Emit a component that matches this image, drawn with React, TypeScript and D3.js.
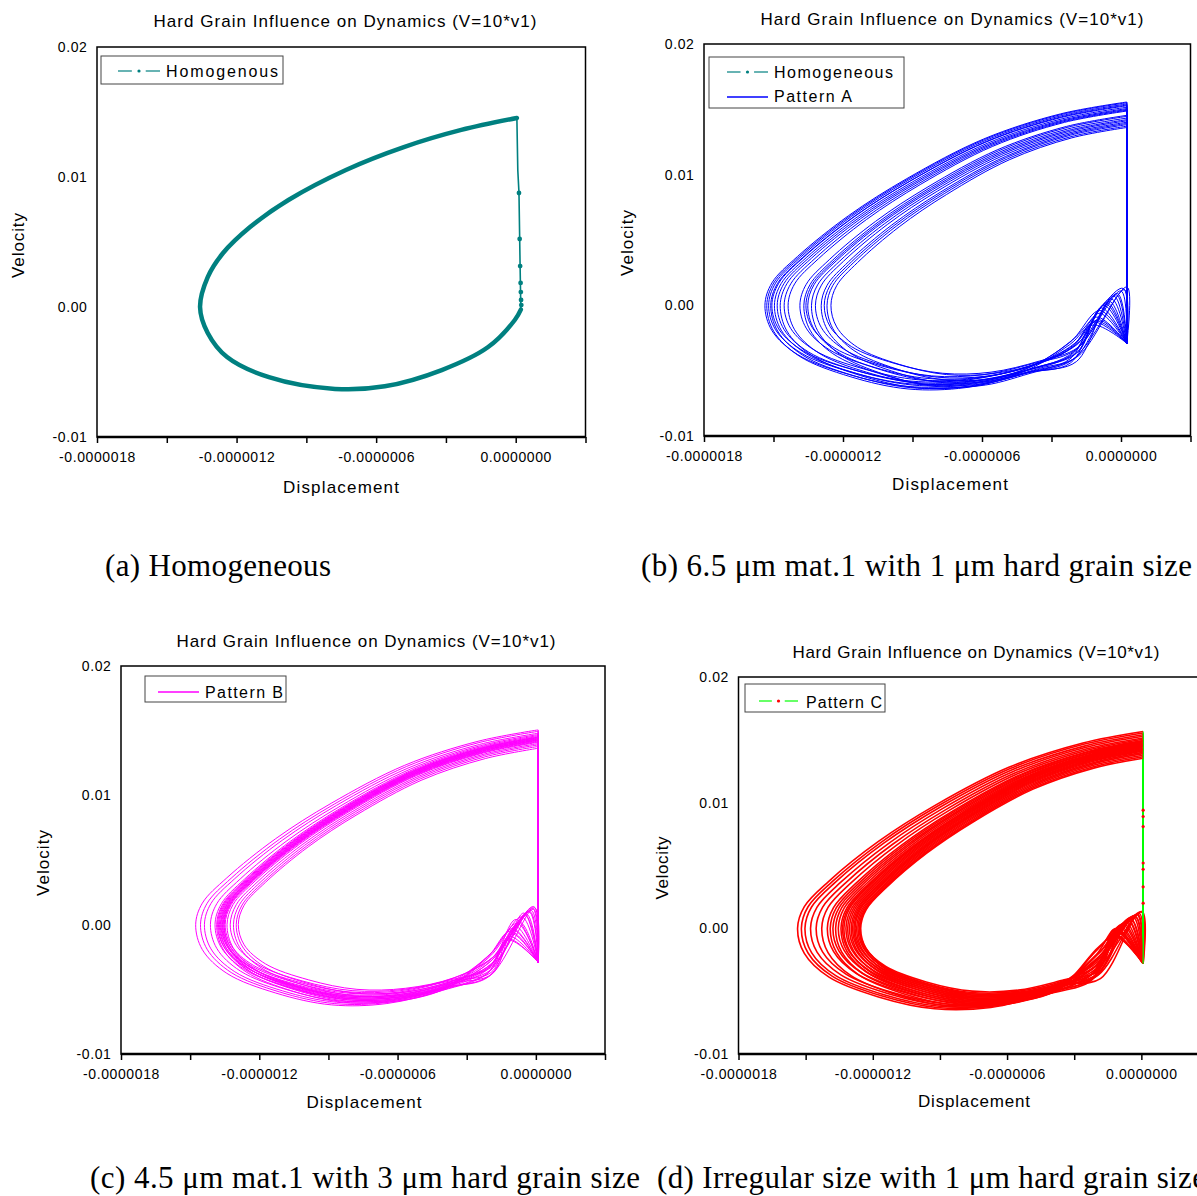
import React, { useEffect, useRef } from 'react';
import * as d3 from 'd3';

const FONT = '"Liberation Sans", Arial, sans-serif';
const SERIF = '"Liberation Serif", "Times New Roman", serif';
const TEAL = '#008080';

// axes (displacement in units of 1e-6)
const xTickValues = [-1.8, -1.5, -1.2, -0.9, -0.6, -0.3, 0, 0.3];
const xLabelValues = [-1.8, -1.2, -0.6, 0];
const xTickLabels = ['-0.0000018', '-0.0000012', '-0.0000006', '0.0000000'];
const yTickValues = [-0.01, 0, 0.01, 0.02];
const yTickLabels = ['-0.01', '0.00', '0.01', '0.02'];

// (a) homogeneous cycle
const homDisp = [0.005, -0.234, -0.481, -0.730, -0.977, -1.142, -1.258, -1.324, -1.357, -1.324, -1.241, -1.061, -0.777, -0.563, -0.318, -0.120, -0.004, 0.022];
const homVel = [0.01454, 0.01362, 0.0123, 0.01054, 0.00823, 0.00615, 0.00415, 0.0023, 0.0, -0.002, -0.00385, -0.0054, -0.0063, -0.0061, -0.00485, -0.0031, -0.001, -0.0002];
const homJumpDisp = [0.022, 0.019, 0.014, 0.009, 0.005];
const homJumpVel = [-0.0002, 0.003, 0.0088, 0.0105, 0.01454];
const homMarkerDisp = [0.014, 0.017, 0.019, 0.021, 0.022, 0.023, 0.024];
const homMarkerVel = [0.00877, 0.00523, 0.00315, 0.00185, 0.00115, 0.00054, 0.00015];

// reference loop shape (outer cycle of pattern A), starts at the top of the jump
const baseDisp = [0.0, -0.26, -0.59, -0.92, -1.17, -1.39, -1.50, -1.53, -1.50, -1.39, -1.17, -0.92, -0.67, -0.42, -0.22];
const baseVel = [0.0154, 0.0145, 0.0126, 0.0096, 0.0068, 0.0037, 0.0017, 0.0, -0.0019, -0.0037, -0.0052, -0.0061, -0.0060, -0.0050, -0.0032];

// Pattern A cycles: leftmost displacement, top / bottom velocity, velocity near -0.22e-6, hook tip
const aLeft = [-1.537, -1.529, -1.521, -1.512, -1.507, -1.496, -1.484, -1.471, -1.454, -1.437, -1.386, -1.369, -1.360, -1.352, -1.336, -1.319, -1.294, -1.281, -1.269, -1.252];
const aTop = [0.01556, 0.0155, 0.01541, 0.01527, 0.01533, 0.01516, 0.01506, 0.01499, 0.01493, 0.01487, 0.01454, 0.01446, 0.01433, 0.01421, 0.01412, 0.01401, 0.01392, 0.01383, 0.01371, 0.01361];
const aBottom = [-0.0062, -0.0064, -0.006, -0.0063, -0.0058, -0.0061, -0.0059, -0.0063, -0.0057, -0.006, -0.0056, -0.0061, -0.0054, -0.0058, -0.0062, -0.0055, -0.0059, -0.0052, -0.0057, -0.0053];
const aTail = [-0.003, -0.0041, -0.0028, -0.0044, -0.0033, -0.0038, -0.0027, -0.0042, -0.0031, -0.0036, -0.0029, -0.004, -0.0034, -0.0037, -0.0043, -0.003, -0.0039, -0.0032, -0.0035, -0.0028];
const aHookDisp = [-0.12, -0.11, -0.091, -0.074, -0.041, -0.016, 0.009, 0.026, -0.115, -0.06, -0.105, -0.03, 0.0, -0.085, -0.05, -0.1, 0.015, -0.02, -0.095, -0.065];
const aHookVel = [-0.0015, -0.0012, -0.0004, 0.0, 0.0005, 0.0009, 0.0013, 0.0014, -0.0013, 0.0002, -0.0009, 0.0007, 0.0011, -0.0002, 0.0003, -0.0011, 0.0012, 0.0008, -0.0006, 0.0001];
const aJumpDisp = 0.025;
const aJumpLow = -0.0029;

// Pattern B cycles
const bLeft = [-1.476, -1.455, -1.438, -1.412, -1.392, -1.385, -1.381, -1.377, -1.373, -1.369, -1.366, -1.363, -1.36, -1.357, -1.354, -1.352, -1.348, -1.34, -1.326, -1.312, -1.3, -1.291];
const bTop = [0.01506, 0.01495, 0.0148, 0.0147, 0.01462, 0.01455, 0.0145, 0.01448, 0.01445, 0.0144, 0.01438, 0.01435, 0.0143, 0.01428, 0.01425, 0.0142, 0.01415, 0.0141, 0.014, 0.0139, 0.01378, 0.01364];
const bBottom = [-0.0062, -0.0061, -0.006, -0.0059, -0.0057, -0.006, -0.0055, -0.0058, -0.0056, -0.0059, -0.0054, -0.0057, -0.0055, -0.0058, -0.0053, -0.0056, -0.0052, -0.0057, -0.0051, -0.0055, -0.0053, -0.005];
const bTail = [-0.0038, -0.0025, -0.0034, -0.004, -0.0029, -0.0036, -0.0023, -0.0032, -0.0027, -0.0039, -0.0031, -0.0024, -0.0035, -0.0028, -0.0037, -0.0022, -0.0033, -0.003, -0.0026, -0.0038, -0.0031, -0.0025];
const bHookDisp = [-0.12, -0.11, -0.086, -0.052, -0.009, -0.115, -0.1, -0.07, -0.03, -0.01, -0.105, -0.06, -0.04, -0.02, -0.1, -0.08, -0.015, -0.045, -0.118, -0.09, -0.025, -0.005];
const bHookVel = [-0.0012, -0.0005, 0.0004, 0.0009, 0.0014, -0.0009, -0.0003, 0.0002, 0.001, 0.0012, -0.0007, 0.0006, 0.0008, 0.0011, -0.0004, 0.0001, 0.0013, 0.0007, -0.0011, -0.0001, 0.001, 0.0013];
const bJumpDisp = 0.01;
const bJumpLow = -0.0029;

// Pattern C cycles
const cLeft = [-1.536, -1.519, -1.503, -1.478, -1.453, -1.428, -1.403, -1.39, -1.378, -1.366, -1.354, -1.342, -1.335, -1.329, -1.32, -1.312, -1.304, -1.296, -1.29, -1.284, -1.279, -1.272, -1.266, -1.26, -1.257, -1.254];
const cTop = [0.01566, 0.01555, 0.0154, 0.01528, 0.01515, 0.01505, 0.01495, 0.0149, 0.01482, 0.01478, 0.0147, 0.01465, 0.0146, 0.01455, 0.0145, 0.01445, 0.0144, 0.01432, 0.01425, 0.01418, 0.0141, 0.014, 0.0139, 0.01378, 0.01365, 0.01354];
const cBottom = [-0.0064, -0.0063, -0.0062, -0.0061, -0.006, -0.0062, -0.0059, -0.0061, -0.0058, -0.006, -0.0057, -0.0059, -0.0056, -0.0058, -0.0055, -0.0057, -0.0054, -0.0056, -0.0053, -0.0055, -0.0052, -0.0054, -0.0051, -0.0053, -0.005, -0.0052];
const cTail = [-0.0041, -0.0036, -0.0039, -0.0031, -0.0026, -0.0034, -0.0021, -0.0038, -0.0029, -0.0017, -0.0033, -0.0024, -0.0037, -0.0015, -0.0028, -0.0035, -0.0022, -0.003, -0.0019, -0.0032, -0.0025, -0.004, -0.0027, -0.0018, -0.0033, -0.0023];
const cHookDisp = [-0.12, -0.11, -0.08, -0.038, 0.003, -0.118, -0.11, -0.06, -0.02, -0.105, -0.095, -0.05, -0.01, -0.115, -0.12, -0.07, -0.03, 0.0, -0.1, -0.1, -0.045, -0.015, -0.1, -0.085, -0.055, -0.025];
const cHookVel = [-0.00066, -0.00013, 0.0004, 0.00093, 0.00133, -0.0005, 0.0, 0.0006, 0.0011, -0.0003, 0.0002, 0.0008, 0.0012, -0.0006, -0.0001, 0.0005, 0.001, 0.0013, -0.0004, 0.0001, 0.0007, 0.0011, -0.0002, 0.0003, 0.0006, 0.0009];
const cJumpDisp = 0.008;
const cJumpLow = -0.0028;
const cJumpMarkerVel = [0.0094, 0.0089, 0.0081, 0.0052, 0.0047, 0.0033, 0.002];

const baseLeft = d3.min(baseDisp);
const baseTop = baseVel[0];
const baseBottom = d3.min(baseVel);

function cycleLoop(set, i) {
  const r = set.left[i] / baseLeft;
  const sTop = set.top[i] / baseTop;
  const sBot = set.bottom[i] / baseBottom;
  const last = baseDisp.length - 1;
  const pts = [[set.jumpDisp, set.top[i]]];
  for (let k = 1; k < last; k++) {
    const v = baseVel[k];
    pts.push([baseDisp[k] * r, v >= 0 ? v * sTop : v * sBot]);
  }
  pts.push([baseDisp[last] * r, set.tail[i]]);
  pts.push([set.hookDisp[i], set.hookVel[i]]);
  pts.push([set.jumpDisp, set.jumpLow]);
  return pts;
}

function drawPattern(g, x, y, set) {
  const smooth = d3.line().x(d => x(d[0])).y(d => y(d[1])).curve(d3.curveCatmullRom.alpha(0.5));
  const straight = d3.line().x(d => x(d[0])).y(d => y(d[1]));
  set.left.forEach((_, i) => {
    g.append('path')
      .datum(cycleLoop(set, i))
      .attr('d', smooth)
      .attr('fill', 'none')
      .attr('stroke', set.color)
      .attr('stroke-width', set.width);
    g.append('path')
      .datum([[set.jumpDisp, set.jumpLow], [set.jumpDisp, set.top[i]]])
      .attr('d', straight)
      .attr('fill', 'none')
      .attr('stroke', set.jumpColor || set.color)
      .attr('stroke-width', 1.2);
  });
}

function drawHomogeneous(g, x, y) {
  const smooth = d3.line().x(d => x(d[0])).y(d => y(d[1])).curve(d3.curveCatmullRom.alpha(0.5));
  const straight = d3.line().x(d => x(d[0])).y(d => y(d[1]));
  g.append('path')
    .datum(d3.zip(homDisp, homVel))
    .attr('d', smooth)
    .attr('fill', 'none')
    .attr('stroke', TEAL)
    .attr('stroke-width', 4.5)
    .attr('stroke-linecap', 'round')
    .attr('stroke-linejoin', 'round');
  g.append('path')
    .datum(d3.zip(homJumpDisp, homJumpVel))
    .attr('d', straight)
    .attr('fill', 'none')
    .attr('stroke', TEAL)
    .attr('stroke-width', 1.6);
  g.selectAll(null)
    .data(d3.zip(homMarkerDisp, homMarkerVel))
    .join('circle')
    .attr('cx', d => x(d[0]))
    .attr('cy', d => y(d[1]))
    .attr('r', 2.4)
    .attr('fill', TEAL);
}

const setA = { left: aLeft, top: aTop, bottom: aBottom, tail: aTail, hookDisp: aHookDisp, hookVel: aHookVel, jumpDisp: aJumpDisp, jumpLow: aJumpLow, color: '#0000ff', width: 1 };
const setB = { left: bLeft, top: bTop, bottom: bBottom, tail: bTail, hookDisp: bHookDisp, hookVel: bHookVel, jumpDisp: bJumpDisp, jumpLow: bJumpLow, color: '#ff00ff', width: 1 };
const setC = { left: cLeft, top: cTop, bottom: cBottom, tail: cTail, hookDisp: cHookDisp, hookVel: cHookVel, jumpDisp: cJumpDisp, jumpLow: cJumpLow, color: '#ff0000', jumpColor: '#00ff00', width: 1.6 };

const TITLE = 'Hard Grain Influence on Dynamics (V=10*v1)';

const panels = [
  {
    left: 97, right: 585.5, top: 47, bottom: 437,
    title: [345, 27, 383], xlab: [341, 492.5, 116], ylab: [24, 245.5, 65],
    box: [101, 56, 283, 84],
    legend: [{ label: 'Homogenous', kind: 'dashdot', color: TEAL, dot: TEAL, ly: 71, x0: 118, x1: 160, tx: 166, base: 76.5, len: 112 }],
    series: (g, x, y) => drawHomogeneous(g, x, y),
  },
  {
    left: 704, right: 1190.5, top: 44, bottom: 436,
    title: [952, 25, 383], xlab: [950, 490, 116], ylab: [633, 243, 66],
    box: [709, 57, 904, 108],
    legend: [
      { label: 'Homogeneous', kind: 'dashdot', color: TEAL, dot: TEAL, ly: 72, x0: 727, x1: 768, tx: 774, base: 77.5, len: 119 },
      { label: 'Pattern A', kind: 'line', color: '#0000ff', ly: 97, x0: 727, x1: 768, tx: 774, base: 102, len: 78 },
    ],
    series: (g, x, y) => drawPattern(g, x, y, setA),
  },
  {
    left: 121, right: 605, top: 666, bottom: 1054,
    title: [366, 646.5, 379], xlab: [364, 1108, 115], ylab: [49, 863, 66],
    box: [145, 676, 286, 702],
    legend: [{ label: 'Pattern B', kind: 'line', color: '#ff00ff', ly: 692, x0: 158, x1: 199, tx: 205, base: 698, len: 78 }],
    series: (g, x, y) => drawPattern(g, x, y, setB),
  },
  {
    left: 738.5, right: 1208.5, top: 677, bottom: 1054,
    title: [976, 658, 367], xlab: [974, 1107, 112], ylab: [668, 868, 63],
    box: [745, 684, 885, 712],
    legend: [{ label: 'Pattern C', kind: 'dashdot', color: '#00ff00', dot: '#ff0000', ly: 701, x0: 759, x1: 798, tx: 806, base: 708, len: 76 }],
    series: (g, x, y) => {
      drawPattern(g, x, y, setC);
      g.selectAll(null)
        .data(cJumpMarkerVel)
        .join('circle')
        .attr('cx', x(cJumpDisp))
        .attr('cy', d => y(d))
        .attr('r', 1.6)
        .attr('fill', '#ff0000');
    },
  },
];

const captions = [
  { text: '(a) Homogeneous', x: 105, y: 576, len: 226 },
  { text: '(b) 6.5 \u03bcm mat.1 with 1 \u03bcm hard grain size', x: 641, y: 576, len: 551 },
  { text: '(c) 4.5 \u03bcm mat.1 with 3 \u03bcm hard grain size', x: 90, y: 1188, len: 550 },
  { text: '(d) Irregular size with 1 \u03bcm hard grain size', x: 657, y: 1188, len: 549 },
];

const near = (arr, d) => arr.findIndex(v => Math.abs(v - d) < 1e-9);

function drawPanel(svg, p) {
  const x = d3.scaleLinear().domain([-1.8, 0.3]).range([p.left, p.right]);
  const y = d3.scaleLinear().domain([-0.01, 0.02]).range([p.bottom, p.top]);
  const g = svg.append('g');

  p.series(g, x, y);

  // frame
  g.append('rect')
    .attr('x', p.left).attr('y', p.top)
    .attr('width', p.right - p.left).attr('height', p.bottom - p.top)
    .attr('fill', 'none').attr('stroke', '#000').attr('stroke-width', 1.5);
  g.append('line')
    .attr('x1', p.left).attr('x2', p.right).attr('y1', p.bottom).attr('y2', p.bottom)
    .attr('stroke', '#000').attr('stroke-width', 2.4);

  // axes
  const xa = g.append('g')
    .attr('transform', `translate(0,${p.bottom})`)
    .call(d3.axisBottom(x).tickValues(xTickValues).tickSize(6).tickSizeOuter(0).tickPadding(9)
      .tickFormat(d => { const i = near(xLabelValues, +d); return i < 0 ? '' : xTickLabels[i]; }));
  xa.select('.domain').remove();
  xa.attr('font-family', FONT).attr('font-size', 14);
  xa.selectAll('line').attr('stroke', '#000').attr('stroke-width', 1.5);
  xa.selectAll('text').attr('fill', '#000').attr('letter-spacing', 0.6);

  const ya = g.append('g')
    .attr('transform', `translate(${p.left},0)`)
    .call(d3.axisLeft(y).tickValues(yTickValues).tickSize(0).tickSizeOuter(0).tickPadding(9.5)
      .tickFormat(d => { const i = near(yTickValues, +d); return yTickLabels[i]; }));
  ya.select('.domain').remove();
  ya.attr('font-family', FONT).attr('font-size', 14);
  ya.selectAll('text').attr('fill', '#000').attr('letter-spacing', 0.6);

  // title and axis labels
  g.append('text')
    .attr('x', p.title[0]).attr('y', p.title[1])
    .attr('text-anchor', 'middle').attr('font-family', FONT).attr('font-size', 17)
    .attr('textLength', p.title[2]).attr('lengthAdjust', 'spacing')
    .text(TITLE);
  g.append('text')
    .attr('x', p.xlab[0]).attr('y', p.xlab[1])
    .attr('text-anchor', 'middle').attr('font-family', FONT).attr('font-size', 17)
    .attr('textLength', p.xlab[2]).attr('lengthAdjust', 'spacing')
    .text('Displacement');
  g.append('text')
    .attr('transform', `translate(${p.ylab[0]},${p.ylab[1]}) rotate(-90)`)
    .attr('text-anchor', 'middle').attr('font-family', FONT).attr('font-size', 17)
    .attr('textLength', p.ylab[2]).attr('lengthAdjust', 'spacing')
    .text('Velocity');

  // legend
  const [bx0, by0, bx1, by1] = p.box;
  g.append('rect')
    .attr('x', bx0).attr('y', by0).attr('width', bx1 - bx0).attr('height', by1 - by0)
    .attr('fill', '#fff').attr('stroke', '#444').attr('stroke-width', 1);
  p.legend.forEach(e => {
    const L = e.x1 - e.x0;
    if (e.kind === 'line') {
      g.append('line').attr('x1', e.x0).attr('x2', e.x1).attr('y1', e.ly).attr('y2', e.ly)
        .attr('stroke', e.color).attr('stroke-width', 1.5);
    } else {
      g.append('line').attr('x1', e.x0).attr('x2', e.x0 + L * 0.33).attr('y1', e.ly).attr('y2', e.ly)
        .attr('stroke', e.color).attr('stroke-width', 1.2);
      g.append('line').attr('x1', e.x0 + L * 0.66).attr('x2', e.x1).attr('y1', e.ly).attr('y2', e.ly)
        .attr('stroke', e.color).attr('stroke-width', 1.2);
      g.append('circle').attr('cx', e.x0 + L * 0.5).attr('cy', e.ly).attr('r', 1.6).attr('fill', e.dot);
    }
    g.append('text')
      .attr('x', e.tx).attr('y', e.base)
      .attr('font-family', FONT).attr('font-size', 16)
      .attr('textLength', e.len).attr('lengthAdjust', 'spacing')
      .text(e.label);
  });
}

const App = () => {
  const svgRef = useRef(null);

  useEffect(() => {
    const svg = d3.select(svgRef.current);
    svg.selectAll('*').remove();
    svg.append('rect').attr('width', 1197).attr('height', 1196).attr('fill', '#fff');

    panels.forEach(p => drawPanel(svg, p));

    captions.forEach(c => {
      svg.append('text')
        .attr('x', c.x).attr('y', c.y)
        .attr('font-family', SERIF).attr('font-size', 31)
        .attr('textLength', c.len).attr('lengthAdjust', 'spacing')
        .text(c.text);
    });
  }, []);

  return (
    <svg ref={svgRef} width={1197} height={1196}
      style={{ position: 'absolute', left: 0, top: 0, display: 'block' }}></svg>
  );
};

export default App;
